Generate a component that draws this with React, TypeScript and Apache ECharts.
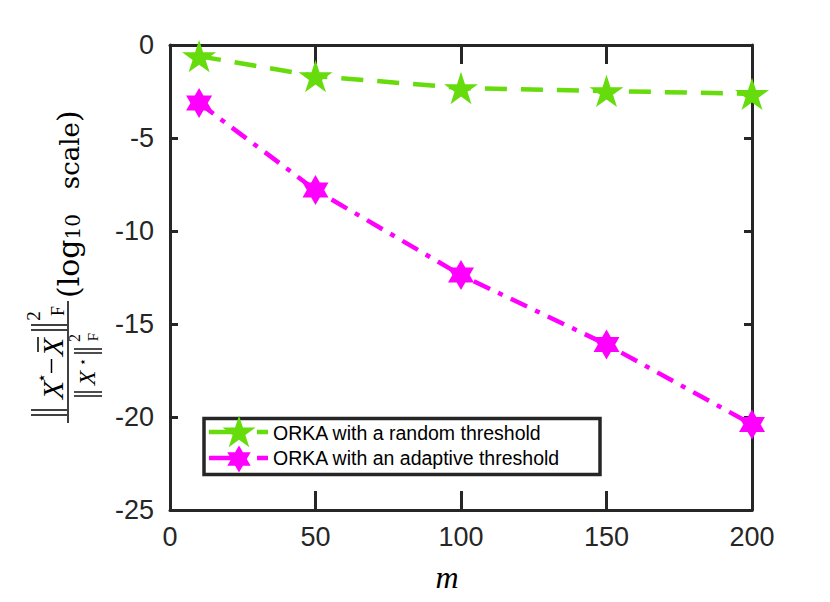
import React, { useEffect, useRef } from "react";
import * as echarts from "echarts";

// ---- data ----
const mValues = [10, 50, 100, 150, 200];
const randomThreshold = [-0.6, -1.67, -2.31, -2.47, -2.63];
const adaptiveThreshold = [-3.12, -7.8, -12.37, -16.1, -20.4];
const seriesNames = ["ORKA with a random threshold", "ORKA with an adaptive threshold"];
const xRange = [0, 200];
const xStep = 50;
const yRange = [-25, 0];
const yStep = 5;

const GREEN = "#66DC0C";
const MAGENTA = "#FF00FF";
const AXIS = "#262626";

function starPts(n: number, inner: number, cx: number, cy: number, R: number): number[][] {
  const pts: number[][] = [];
  for (let k = 0; k < 2 * n; k++) {
    const a = -Math.PI / 2 + (k * Math.PI) / n;
    const r = k % 2 === 0 ? R : R * inner;
    pts.push([cx + r * Math.cos(a), cy + r * Math.sin(a)]);
  }
  return pts;
}
function starPath(n: number, inner: number): string {
  const p = starPts(n, inner, 50, 50, 50);
  return "path://M" + p.map((q) => q[0].toFixed(2) + " " + q[1].toFixed(2)).join(" L") + " Z";
}
const PENTA = starPath(5, 0.382);
const HEXA = starPath(6, 0.577);

const SERIF = "'Liberation Serif', 'DejaVu Serif', serif";
const DSERIF = "'DejaVu Serif', 'Liberation Serif', serif";
const SANS = "'Liberation Sans', Arial, Helvetica, sans-serif";

function txt(text: string, x: number, y: number, size: number, extra: any = {}) {
  const align = extra.align || "center";
  return {
    type: "text",
    x,
    y,
    style: {
      text,
      fontSize: size,
      fontFamily: extra.fontFamily || SERIF,
      fontStyle: extra.italic ? "italic" : "normal",
      fill: "#000",
      align,
      verticalAlign: "middle",
    },
  };
}
function ln(x1: number, y1: number, x2: number, y2: number, w = 1.4) {
  return { type: "line", shape: { x1, y1, x2, y2 }, style: { stroke: "#000", lineWidth: w } };
}

export default function App() {
  const ref = useRef<HTMLDivElement>(null);
  useEffect(() => {
    document.body.style.margin = "0";
    if (!ref.current) return;
    const chart = echarts.init(ref.current, undefined, { renderer: "svg" });

    const axisCommon = {
      type: "value",
      splitLine: { show: false },
      axisLine: { show: true, onZero: false, lineStyle: { color: AXIS, width: 3 } },
    };

    const yLabelChildren: any[] = [
      // fraction bar
      ln(0, 0, 122, 0, 1.5),
      // numerator ‖X⋆ − X̄‖²_F
      ln(8, -37, 8, -1), ln(13, -37, 13, -1),
      txt("X", 33, -16, 30, { italic: true }),
      txt("⋆", 45, -27, 16, { fontFamily: "'DejaVu Sans', sans-serif" }),
      ln(50, -16.5, 64, -16.5, 1.5),
      txt("X", 76, -16, 30, { italic: true }),
      ln(71, -30, 86, -30, 1.5),
      ln(93, -37, 93, -1), ln(98, -37, 98, -1),
      txt("2", 107, -35, 19),
      txt("F", 112, -10, 18),
      // denominator ‖X⋆‖²_F
      ln(27, 6, 27, 34), ln(31, 6, 31, 34),
      txt("X", 45, 19, 24, { italic: true }),
      txt("⋆", 61, 14, 13, { fontFamily: "'DejaVu Sans', sans-serif" }),
      ln(70, 6, 70, 34), ln(74, 6, 74, 34),
      txt("2", 85, 6, 16),
      txt("F", 86, 25, 15),
      // (log10 scale)
      {
        type: "text",
        x: 125,
        y: 0,
        style: {
          text: "{a|(log}{s|10}{b|   scale}{a|)}",
          fontFamily: DSERIF,
          fill: "#000",
          align: "left",
          verticalAlign: "middle",
          rich: {
            a: { fontSize: 30, fontFamily: DSERIF, fill: "#000" },
            s: { fontSize: 20, fontFamily: DSERIF, fill: "#000", verticalAlign: "bottom" },
            b: { fontSize: 26, fontFamily: DSERIF, fill: "#000", verticalAlign: "bottom" },
          },
        },
      },
    ];

    const legendGraphics: any[] = [
      {
        type: "rect",
        shape: { x: 204, y: 418.5, width: 396, height: 56 },
        style: { fill: "#fff", stroke: AXIS, lineWidth: 3.5 },
        z: 100,
      },
      {
        type: "line",
        shape: { x1: 209, y1: 432, x2: 268, y2: 432 },
        style: { stroke: GREEN, lineWidth: 4.5, lineDash: [26, 22] },
        z: 101,
      },
      {
        type: "polygon",
        shape: { points: starPts(5, 0.382, 239, 433, 17.5) },
        style: { fill: GREEN },
        z: 102,
      },
      {
        type: "line",
        shape: { x1: 209, y1: 458, x2: 268, y2: 458 },
        style: { stroke: MAGENTA, lineWidth: 4.5, lineDash: [26, 22] },
        z: 101,
      },
      {
        type: "polygon",
        shape: { points: starPts(6, 0.577, 239, 459, 13.5) },
        style: { fill: MAGENTA },
        z: 102,
      },
      {
        type: "text",
        x: 273,
        y: 433,
        z: 103,
        style: { text: seriesNames[0], fontSize: 19.5, fontFamily: SANS, fill: "#000", align: "left", verticalAlign: "middle" },
      },
      {
        type: "text",
        x: 273,
        y: 458,
        z: 103,
        style: { text: seriesNames[1], fontSize: 19.5, fontFamily: SANS, fill: "#000", align: "left", verticalAlign: "middle" },
      },
    ];

    chart.setOption({
      animation: false,
      backgroundColor: "#fff",
      grid: { left: 170, right: 78, top: 45, bottom: 92, containLabel: false },
      xAxis: [
        {
          ...axisCommon,
          min: xRange[0],
          max: xRange[1],
          interval: xStep,
          position: "bottom",
          axisTick: { show: true, inside: true, length: 19, lineStyle: { color: AXIS, width: 3 } },
          axisLabel: { show: true, fontSize: 27, color: AXIS, fontFamily: SANS, margin: 13 },
        },
        {
          ...axisCommon,
          min: xRange[0],
          max: xRange[1],
          interval: xStep,
          position: "top",
          axisTick: { show: true, inside: true, length: 19, lineStyle: { color: AXIS, width: 3 } },
          axisLabel: { show: false },
        },
      ],
      yAxis: [
        {
          ...axisCommon,
          min: yRange[0],
          max: yRange[1],
          interval: yStep,
          position: "left",
          axisTick: { show: true, inside: true, length: 8, lineStyle: { color: AXIS, width: 3 } },
          axisLabel: { show: true, fontSize: 27, color: AXIS, fontFamily: SANS, margin: 16 },
        },
        {
          ...axisCommon,
          min: yRange[0],
          max: yRange[1],
          interval: yStep,
          position: "right",
          axisTick: { show: true, inside: true, length: 8, lineStyle: { color: AXIS, width: 3 } },
          axisLabel: { show: false },
        },
      ],
      series: [
        {
          type: "line",
          name: seriesNames[0],
          data: mValues.map((m, i) => [m, randomThreshold[i]]),
          symbol: PENTA,
          symbolSize: 34,
          symbolKeepAspect: true,
          itemStyle: { color: GREEN },
          lineStyle: { color: GREEN, width: 4.5, type: [22, 14], cap: "butt" },
          z: 3,
        },
        {
          type: "line",
          name: seriesNames[1],
          data: mValues.map((m, i) => [m, adaptiveThreshold[i]]),
          symbol: HEXA,
          symbolSize: 30,
          symbolKeepAspect: true,
          itemStyle: { color: MAGENTA },
          lineStyle: { color: MAGENTA, width: 4.5, type: [18, 9, 5, 9], cap: "butt" },
          z: 4,
        },
      ],
      graphic: [
        { type: "group", x: 68, y: 423, rotation: Math.PI / 2, children: yLabelChildren },
        {
          type: "text",
          x: 447,
          y: 577,
          style: { text: "m", fontSize: 32, fontFamily: SERIF, fontStyle: "italic", fill: "#000", align: "center", verticalAlign: "middle" },
        },
        ...legendGraphics,
      ],
    });
    return () => chart.dispose();
  }, []);
  return <div ref={ref} style={{ width: 830, height: 602 }} />;
}
